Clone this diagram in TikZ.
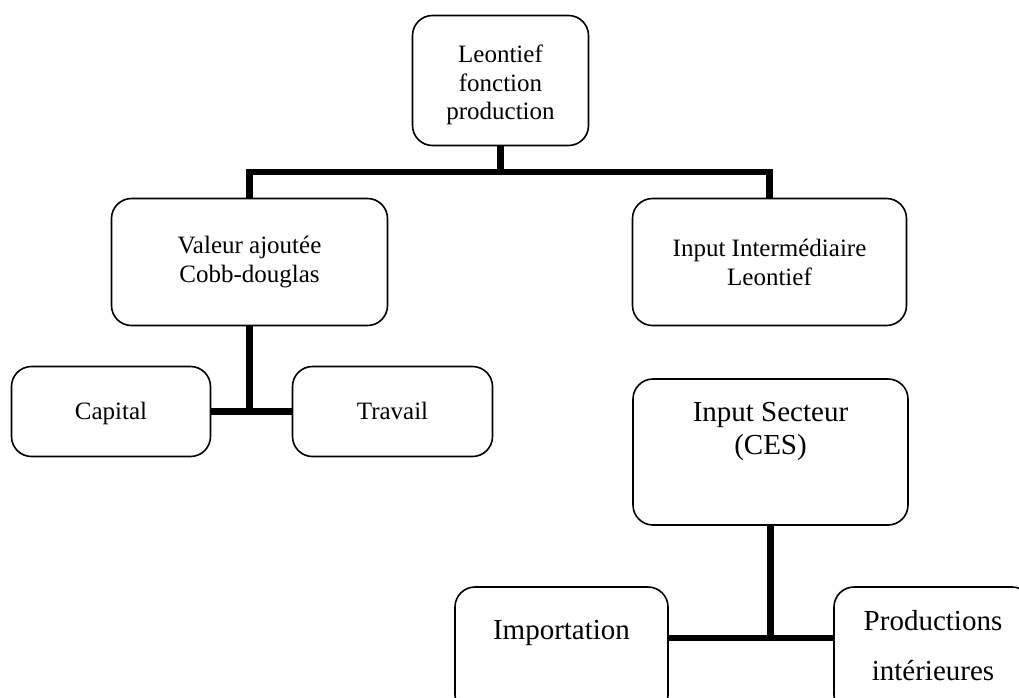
\documentclass[tikz,border=0pt]{standalone}
\usepackage{fontspec}
\setmainfont{Liberation Serif}
\usepackage{tikz}
\usetikzlibrary{positioning}

\tikzset{
  box/.style={draw, line width=1.6pt, rounded corners=20pt, align=center, inner sep=0pt},
  petit/.style={font=\fontsize{25}{29}\selectfont},
  grand/.style={font=\fontsize{29}{33}\selectfont},
  link/.style={line width=6.5pt},
}

\begin{document}
\begin{tikzpicture}[x=1pt, y=-1pt]
        \useasboundingbox (0,0) rectangle (1019,697);
        \clip (0,0) rectangle (1019,697);

        % Niveau 1
        \node[box, font=\fontsize{25}{28.5}\selectfont, minimum width=176pt, minimum height=130pt] (lfp) at (500.5,80.5) {\rule{0pt}{27pt}Leontief\\fonction\\production};

        % Niveau 2
        \node[box, petit, minimum width=276pt, minimum height=127pt] (va) at (249.5,262) {Valeur ajout\'ee\\Cobb-douglas};
        \node[box, petit, minimum width=274pt, minimum height=127pt] (ii) at (769.5,262) {Input Interm\'ediaire\\Leontief};

        % Valeur ajoutee
        \node[box, petit, minimum width=199pt, minimum height=90pt] (cap) at (111,411.5) {\rule[-6pt]{0pt}{28pt}Capital};
        \node[box, petit, minimum width=200pt, minimum height=90pt] (trav) at (392.5,411.5) {\rule[-6pt]{0pt}{28pt}Travail};

        % Input secteur
        \node[box, grand] (is) at (770.5,452) {\parbox[c][146pt][t]{275pt}{\centering\rule{0pt}{42pt}Input Secteur\\(CES)}};
        \node[box, grand] (imp) at (561.5,651) {\parbox[c][128pt][t]{213pt}{\centering\rule{0pt}{52pt}Importation}};
        \node[box, font=\fontsize{29}{50}\selectfont] (prod) at (933,651) {\parbox[c][128pt][t]{198pt}{\centering\rule{0pt}{43pt}Productions\\int\'erieures}};

        % Liaisons
        \coordinate (bar) at (0,172);
        \coordinate (jn) at (0,638);
        \draw[link] (lfp.south) -- (lfp.south |- bar);
        \draw[link] (va.north) -- (va.north |- bar) -| (ii.north);
        \draw[link] (va.south) -- (va.south |- cap.east);
        \draw[link] (cap.east) -- (trav.west);
        \draw[link] (is.south) -- (is.south |- jn);
        \draw[link] (imp.east |- jn) -- (prod.west |- jn);
    \end{tikzpicture}
\end{document}
